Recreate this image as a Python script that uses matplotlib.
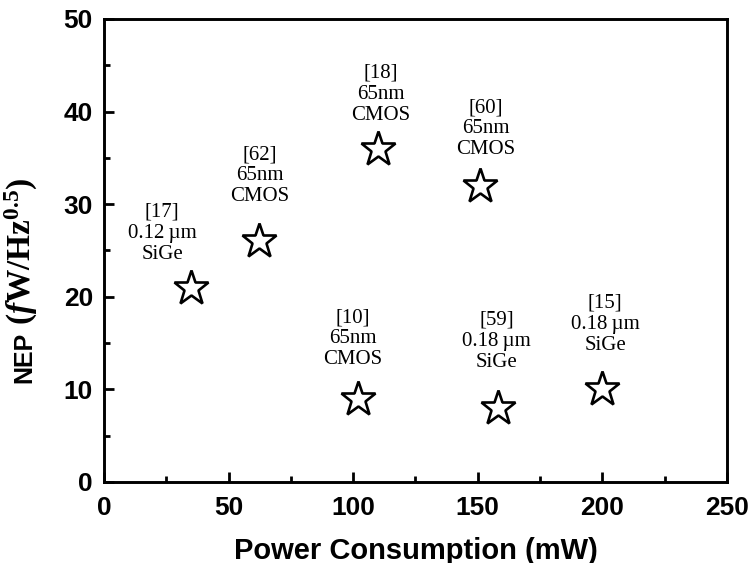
import matplotlib
matplotlib.use("Agg")
import matplotlib.pyplot as plt
from matplotlib.ticker import MultipleLocator

# Published detectors: power consumption (mW) vs NEP (fW/Hz^0.5)
power_mw = [35, 62, 110, 151, 102, 158, 200]
nep = [21, 26, 36, 32, 9, 8, 10]
refs = ["[17]", "[62]", "[18]", "[60]", "[10]", "[59]", "[15]"]
techs = [
    "0.12\u2009\u00b5m\nSiGe",
    "65nm\nCMOS",
    "65nm\nCMOS",
    "65nm\nCMOS",
    "65nm\nCMOS",
    "0.18\u2009\u00b5m\nSiGe",
    "0.18\u2009\u00b5m\nSiGe",
]

# label offsets from each star (points)
label_offsets = [(-21, 17), (1, 25), (2, 17), (4, 19), (-4, 21), (-1, 26), (2, 25)]

plt.rcParams["mathtext.fontset"] = "custom"
plt.rcParams["mathtext.rm"] = "Liberation Serif:bold"
plt.rcParams["mathtext.bf"] = "Liberation Serif:bold"
plt.rcParams["mathtext.it"] = "Liberation Serif:italic:bold"

fig = plt.figure(figsize=(7.51, 5.63), dpi=100)
ax = fig.add_axes([0.1385, 0.1439, 0.8295, 0.8224])

ax.plot(power_mw, nep, linestyle="none", marker="*", markersize=26,
        markerfacecolor="white", markeredgecolor="black", markeredgewidth=1.9)

for x, y, r, t, (dx, dy) in zip(power_mw, nep, refs, techs, label_offsets):
    ax.annotate(r + "\n" + t, xy=(x, y), xytext=(dx, dy), textcoords="offset points",
                ha="center", va="bottom", multialignment="center",
                fontsize=15, family=["Liberation Serif", "DejaVu Serif"],
                linespacing=1.15)

ax.set_xlim(0, 250)
ax.set_ylim(0, 50)
ax.xaxis.set_major_locator(MultipleLocator(50))
ax.xaxis.set_minor_locator(MultipleLocator(25))
ax.yaxis.set_major_locator(MultipleLocator(10))
ax.yaxis.set_minor_locator(MultipleLocator(5))

for s in ax.spines.values():
    s.set_linewidth(2.1)
ax.tick_params(which="both", direction="in", width=2.0)
ax.tick_params(which="major", length=7)
ax.tick_params(which="minor", length=4)
ax.tick_params(axis="x", which="major", pad=10)
ax.tick_params(axis="y", which="major", pad=8)
for lab in ax.get_xticklabels() + ax.get_yticklabels():
    lab.set_fontfamily("Liberation Sans")
    lab.set_fontweight("bold")
    lab.set_fontsize(19)

ax.set_xlabel("Power Consumption (mW)", fontfamily="Liberation Sans",
              fontweight="bold", fontsize=21, labelpad=12)

# y label: bold narrow sans "NEP" followed by the serif unit
fig.text(24 / 751, 1 - 357 / 563, "NEP", rotation=90, ha="center", va="center",
         family=["Liberation Sans Narrow", "Liberation Sans"], fontweight="bold",
         fontsize=18)
fig.text(21 / 751, 1 - 251 / 563, r"$(\mathit{f}\mathrm{W/Hz}^{0.5})$", rotation=90,
         ha="center", va="center", fontsize=24)

fig.savefig("out.png", dpi=100)
